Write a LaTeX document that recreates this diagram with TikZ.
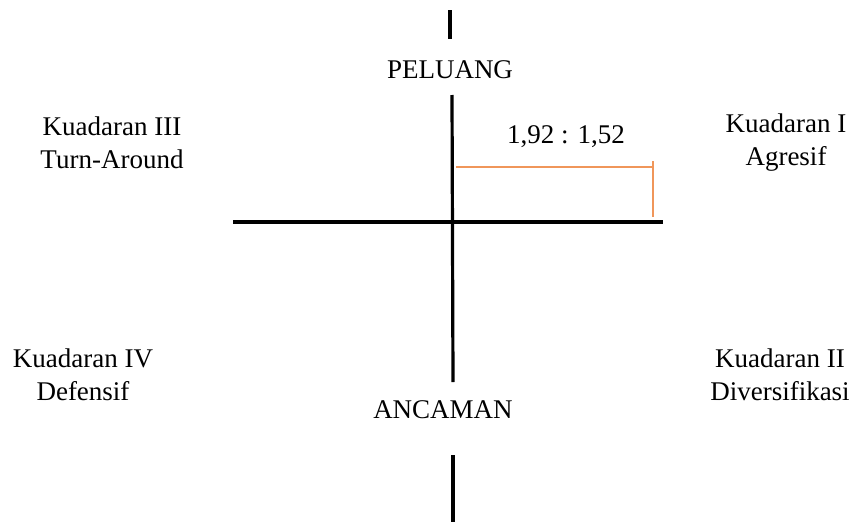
\documentclass[tikz,border=0pt]{standalone}
\usepackage{fontspec}
\setmainfont{Liberation Serif}
\definecolor{orangeline}{RGB}{240,150,90}
\begin{document}
\begin{tikzpicture}[x=1pt,y=-1pt,
  lbl/.style={font=\fontsize{27}{33}\selectfont, align=center, inner sep=0pt},
  axis/.style={line width=3.2pt, black},
  orng/.style={line width=1.6pt, orangeline}]
\useasboundingbox (0,0) rectangle (854,522);
% axis coordinates
\coordinate (t1) at (450,10);
\coordinate (t2) at (450,39);
\coordinate (v1) at (452,95);
\coordinate (v2) at (453,382);
\coordinate (b1) at (453,455);
\coordinate (b2) at (453,522);
\coordinate (hl) at (233,222);
\coordinate (hr) at (663,222);
\coordinate (o1) at (456,167);
\coordinate (o2) at (653,167);
\coordinate (o3) at (653,161);
\coordinate (o4) at (653,217);
\draw[axis] (t1) -- (t2);
\draw[axis] (v1) -- (v2);
\draw[axis] (b1) -- (b2);
\draw[axis] (hl) -- (hr);
\draw[orng] (o1) -- (o2);
\draw[orng] (o3) -- (o4);
% labels
\node[lbl] (peluang) at (450,70) {PELUANG};
\node[lbl] (ratio) at (566,137) {1,92 : 1,52};
\node[lbl] (k3) at (112,143) {Kuadaran III\\Turn-Around};
\node[lbl] (k1) at (786,143) {Kuadaran I\\Agresif};
\node[lbl] (k4) at (83,375) {Kuadaran IV\\Defensif};
\node[lbl] (k2) at (780,375) {Kuadaran II\\Diversifikasi};
\node[lbl] (ancaman) at (443,410) {ANCAMAN};
\end{tikzpicture}
\end{document}
